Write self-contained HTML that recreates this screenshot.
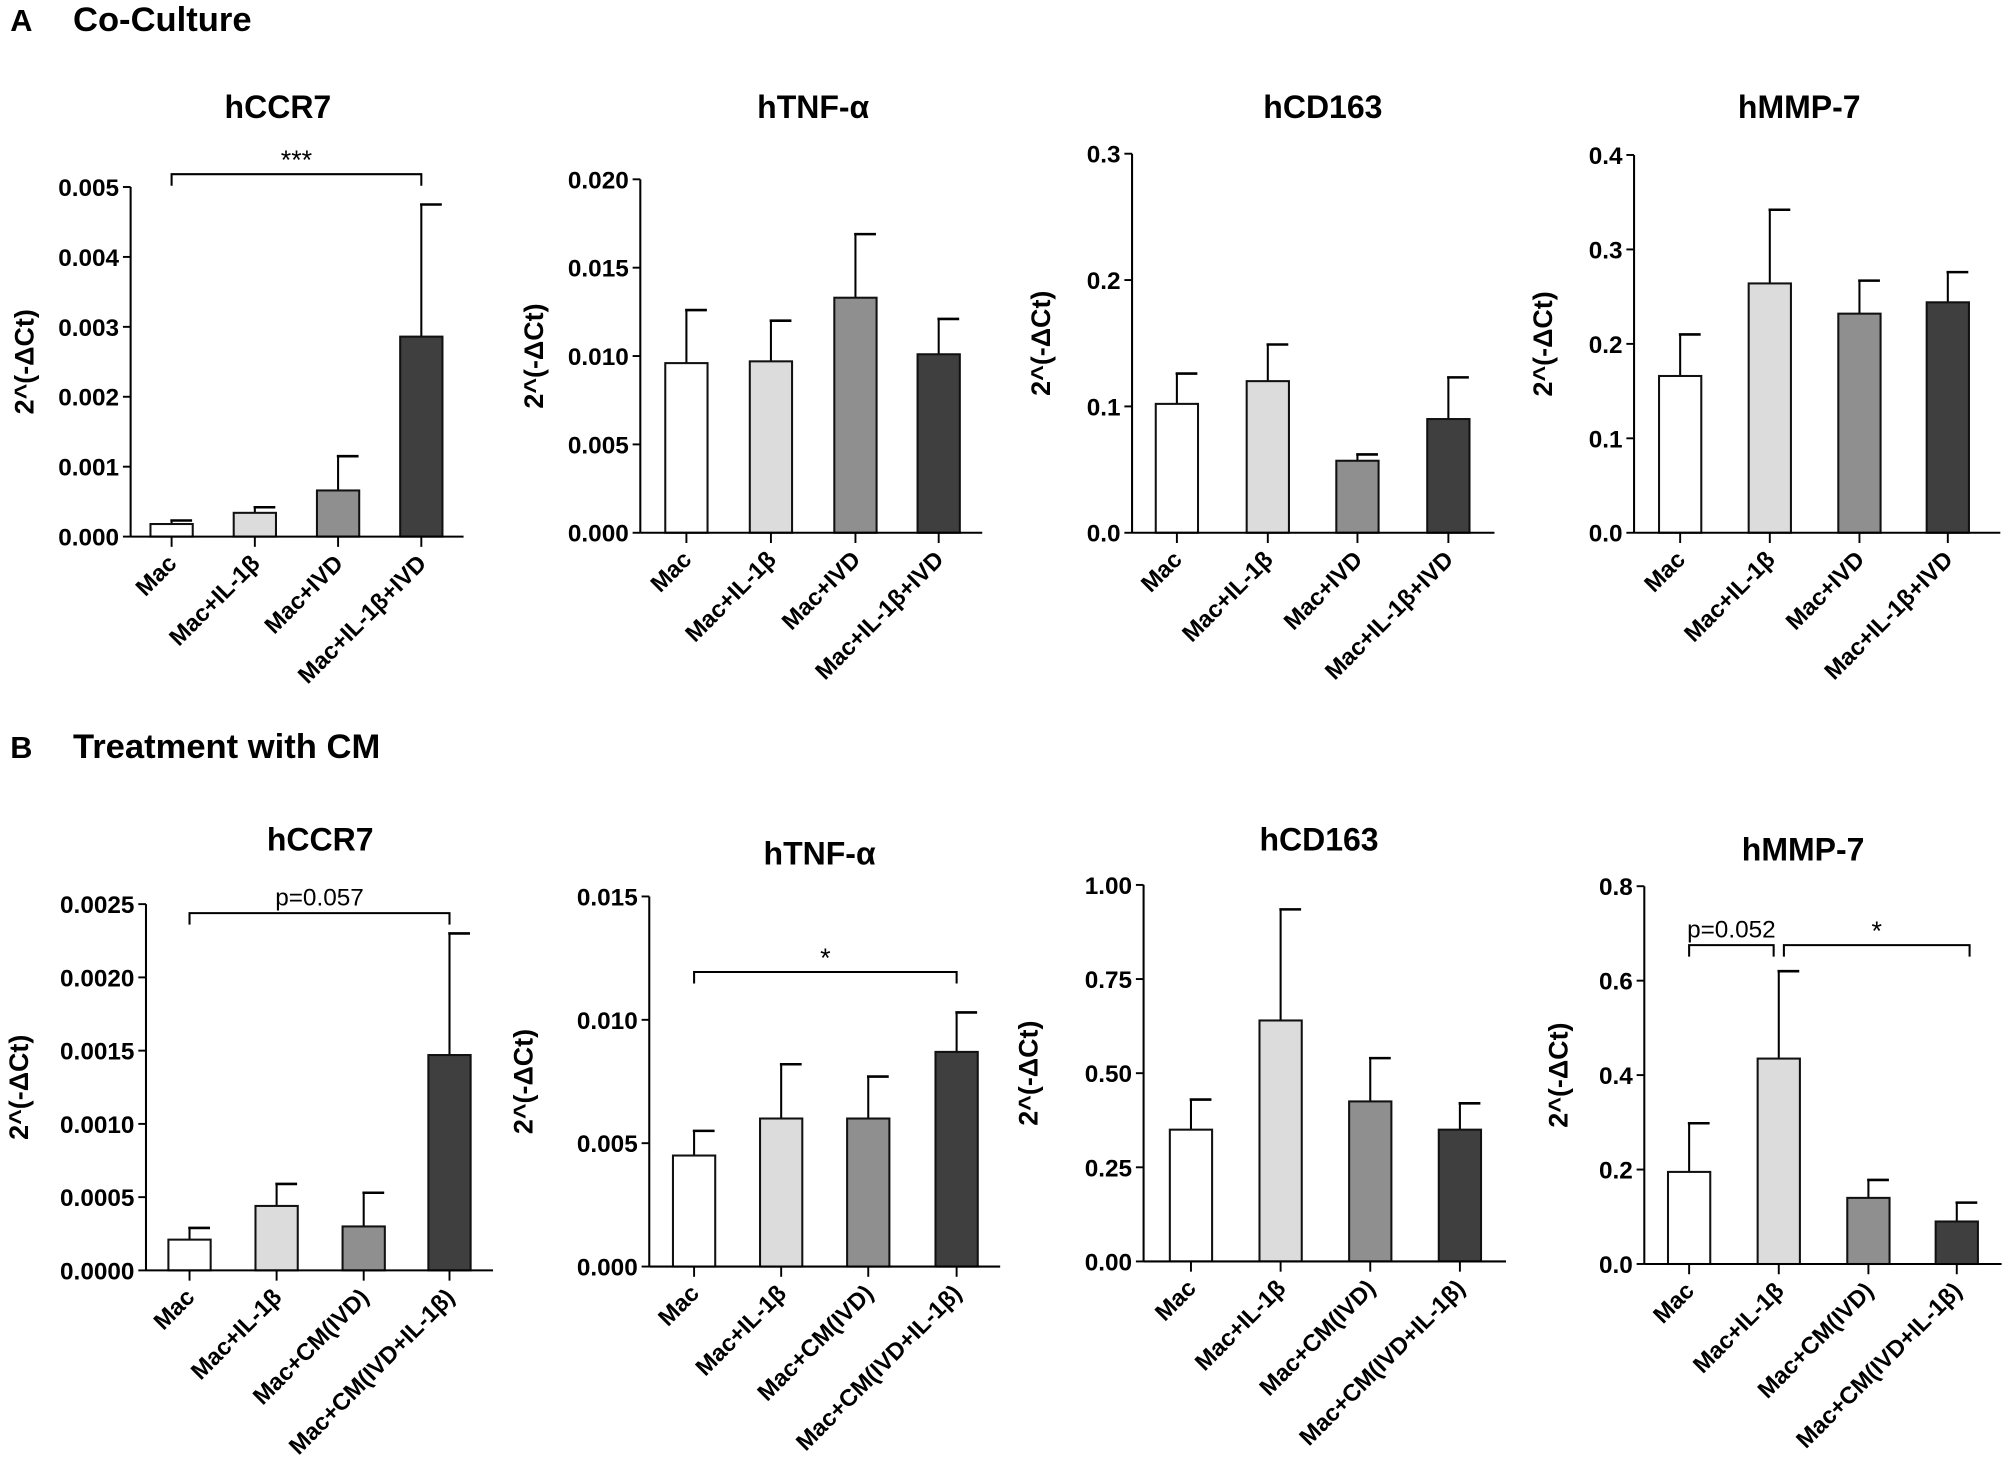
<!DOCTYPE html>
<html><head><meta charset="utf-8"><style>
html,body{margin:0;padding:0;background:#fff}
svg{display:block}
text{font-family:"Liberation Sans",Arial,sans-serif}
</style></head>
<body>
<svg id="fig" xmlns="http://www.w3.org/2000/svg" width="2008" height="1467" viewBox="0 0 1568 1145.5">
<g>
<text x="8" y="24" font-size="24" font-weight="bold">A</text>
<text x="57" y="24" font-size="27" font-weight="bold">Co-Culture</text>
</g>
<g>
<text x="8" y="592" font-size="24" font-weight="bold">B</text>
<text x="57" y="592" font-size="27" font-weight="bold">Treatment with CM</text>
</g>
</svg>
<script>
// Data arrays
const catsA = ["Mac","Mac+IL-1β","Mac+IVD","Mac+IL-1β+IVD"];
const catsB = ["Mac","Mac+IL-1β","Mac+CM(IVD)","Mac+CM(IVD+IL-1β)"];
const fills = ["#ffffff","#dcdcdc","#8f8f8f","#3f3f3f"];
const a1Values = [0.00018,0.00034,0.00066,0.00286];
const a1Errors = [0.00023,0.00042,0.00115,0.00475];
const a1Ticks = ["0.000","0.001","0.002","0.003","0.004","0.005"];
const a2Values = [0.0096,0.0097,0.0133,0.0101];
const a2Errors = [0.0126,0.0120,0.0169,0.0121];
const a2Ticks = ["0.000","0.005","0.010","0.015","0.020"];
const a3Values = [0.102,0.120,0.057,0.090];
const a3Errors = [0.126,0.149,0.062,0.123];
const a3Ticks = ["0.0","0.1","0.2","0.3"];
const a4Values = [0.166,0.264,0.232,0.244];
const a4Errors = [0.210,0.342,0.267,0.276];
const a4Ticks = ["0.0","0.1","0.2","0.3","0.4"];
const b1Values = [0.00021,0.00044,0.00030,0.00147];
const b1Errors = [0.00029,0.00059,0.00053,0.00230];
const b1Ticks = ["0.0000","0.0005","0.0010","0.0015","0.0020","0.0025"];
const b2Values = [0.0045,0.0060,0.0060,0.0087];
const b2Errors = [0.0055,0.0082,0.0077,0.0103];
const b2Ticks = ["0.000","0.005","0.010","0.015"];
const b3Values = [0.35,0.64,0.425,0.35];
const b3Errors = [0.43,0.935,0.54,0.42];
const b3Ticks = ["0.00","0.25","0.50","0.75","1.00"];
const b4Values = [0.195,0.435,0.14,0.09];
const b4Errors = [0.298,0.62,0.178,0.13];
const b4Ticks = ["0.0","0.2","0.4","0.6","0.8"];

const NS="http://www.w3.org/2000/svg";
const svg=document.getElementById('fig');
function mk(tag,attrs,parent){const e=document.createElementNS(NS,tag);for(const k in attrs)e.setAttribute(k,attrs[k]);(parent||svg).appendChild(e);return e;}

function panel(p){
  const g=mk('g',{});
  
  
  const max=parseFloat(p.ticks[p.ticks.length-1]);
  const y=v=>p.y0-(v/max)*(p.y0-p.yTop);
  const bw=33;
  p.values.forEach((v,i)=>{
    const cx=p.xs[i];
    const eb=mk('line',{x1:cx,x2:cx,y1:y(v),y2:y(p.errors[i]),stroke:'#000','stroke-width':1.6},g);
    
    
    const cap=mk('line',{x1:cx-1,x2:cx+16,y1:y(p.errors[i]),y2:y(p.errors[i]),stroke:'#000','stroke-width':2},g);
    
    
    const r=mk('rect',{x:cx-bw/2,y:y(v),width:bw,height:p.y0-y(v),fill:fills[i],stroke:'#111','stroke-width':1.6},g);
    
    
    const tk=mk('line',{x1:cx,x2:cx,y1:p.y0,y2:p.y0+8,stroke:'#000','stroke-width':1.5},g);
    
    
    const t=mk('text',{x:cx+5,y:p.y0+22,'font-size':18.5,'font-weight':'bold','text-anchor':'end',transform:`rotate(-45 ${cx+5} ${p.y0+22})`},g);
    t.textContent=p.cats[i];
    
    
  });
  const ya=mk('line',{x1:p.ax,x2:p.ax,y1:p.yTop,y2:p.y0,stroke:'#000','stroke-width':1.6},g);
  
  
  const xa=mk('line',{x1:p.ax,x2:p.xEnd,y1:p.y0,y2:p.y0,stroke:'#000','stroke-width':1.6},g);
  
  
  p.ticks.forEach(tl=>{
    const yy=y(parseFloat(tl));
    const tk=mk('line',{x1:p.ax-6,x2:p.ax,y1:yy,y2:yy,stroke:'#000','stroke-width':1.5},g);
    
    
    const t=mk('text',{x:p.ax-9,y:yy+7,'font-size':19,'font-weight':'bold','text-anchor':'end'},g);
    t.textContent=tl;
    
    
  });
  const yt=(p.yTop+p.y0)/2;
  const ytl=mk('text',{x:p.ytx,y:yt,'font-size':21,'font-weight':'bold','text-anchor':'middle',transform:`rotate(-90 ${p.ytx} ${yt})`},g);
  ytl.textContent='2^(-ΔCt)';
  
  
  const tt=mk('text',{x:p.tx,y:p.ty,'font-size':25,'font-weight':'bold','text-anchor':'middle'},g);
  tt.textContent=p.title;
  
  
  (p.brackets||[]).forEach(b=>{
    const x1=p.xs[b.from]+(b.o1||0), x2=p.xs[b.to]+(b.o2||0);
    const br=mk('path',{d:`M${x1} ${b.y+9} V${b.y} H${x2} V${b.y+9}`,fill:'none',stroke:'#000','stroke-width':1.6},g);
    
    
    const isP=b.label.startsWith('p');
    const st=mk('text',{x:(x1+x2)/2,y:isP?b.y-6:b.y-4,'font-size':isP?19:21,'text-anchor':'middle'},g);
    st.textContent=b.label;
    
    
  });
}

panel({name:'chart-a-hccr7',title:'hCCR7',tx:217,ty:92,cats:catsA,values:a1Values,errors:a1Errors,ticks:a1Ticks,ax:102,xEnd:362,y0:419,yTop:146,xs:[134,199,264,329],ytx:26,brackets:[{from:0,to:3,y:136,label:'***'}]});
panel({name:'chart-a-htnf',title:'hTNF-α',tx:635,ty:92,cats:catsA,values:a2Values,errors:a2Errors,ticks:a2Ticks,ax:500,xEnd:767,y0:416,yTop:140,xs:[536,602,668,733],ytx:424});
panel({name:'chart-a-hcd163',title:'hCD163',tx:1033,ty:92,cats:catsA,values:a3Values,errors:a3Errors,ticks:a3Ticks,ax:884,xEnd:1167,y0:416,yTop:120,xs:[919,990,1060,1131],ytx:820});
panel({name:'chart-a-hmmp7',title:'hMMP-7',tx:1405,ty:92,cats:catsA,values:a4Values,errors:a4Errors,ticks:a4Ticks,ax:1276,xEnd:1562,y0:416,yTop:121,xs:[1312,1382,1452,1521],ytx:1212});
panel({name:'chart-b-hccr7',title:'hCCR7',tx:250,ty:664,cats:catsB,values:b1Values,errors:b1Errors,ticks:b1Ticks,ax:114,xEnd:385,y0:992,yTop:706,xs:[148,216,284,351],ytx:22,brackets:[{from:0,to:3,y:713,label:'p=0.057'}]});
panel({name:'chart-b-htnf',title:'hTNF-α',tx:640,ty:675,cats:catsB,values:b2Values,errors:b2Errors,ticks:b2Ticks,ax:507,xEnd:781,y0:989,yTop:700,xs:[542,610,678,747],ytx:416,brackets:[{from:0,to:3,y:759,label:'*'}]});
panel({name:'chart-b-hcd163',title:'hCD163',tx:1030,ty:664,cats:catsB,values:b3Values,errors:b3Errors,ticks:b3Ticks,ax:893,xEnd:1176,y0:985,yTop:691,xs:[930,1000,1070,1140],ytx:810});
panel({name:'chart-b-hmmp7',title:'hMMP-7',tx:1408,ty:672,cats:catsB,values:b4Values,errors:b4Errors,ticks:b4Ticks,ax:1284,xEnd:1563,y0:987,yTop:692,xs:[1319,1389,1459,1528],ytx:1224,brackets:[{from:0,to:1,o2:-4,y:738,label:'p=0.052'},{from:1,to:3,o1:4,o2:10,y:738,label:'*'}]});
</script>
</body></html>
